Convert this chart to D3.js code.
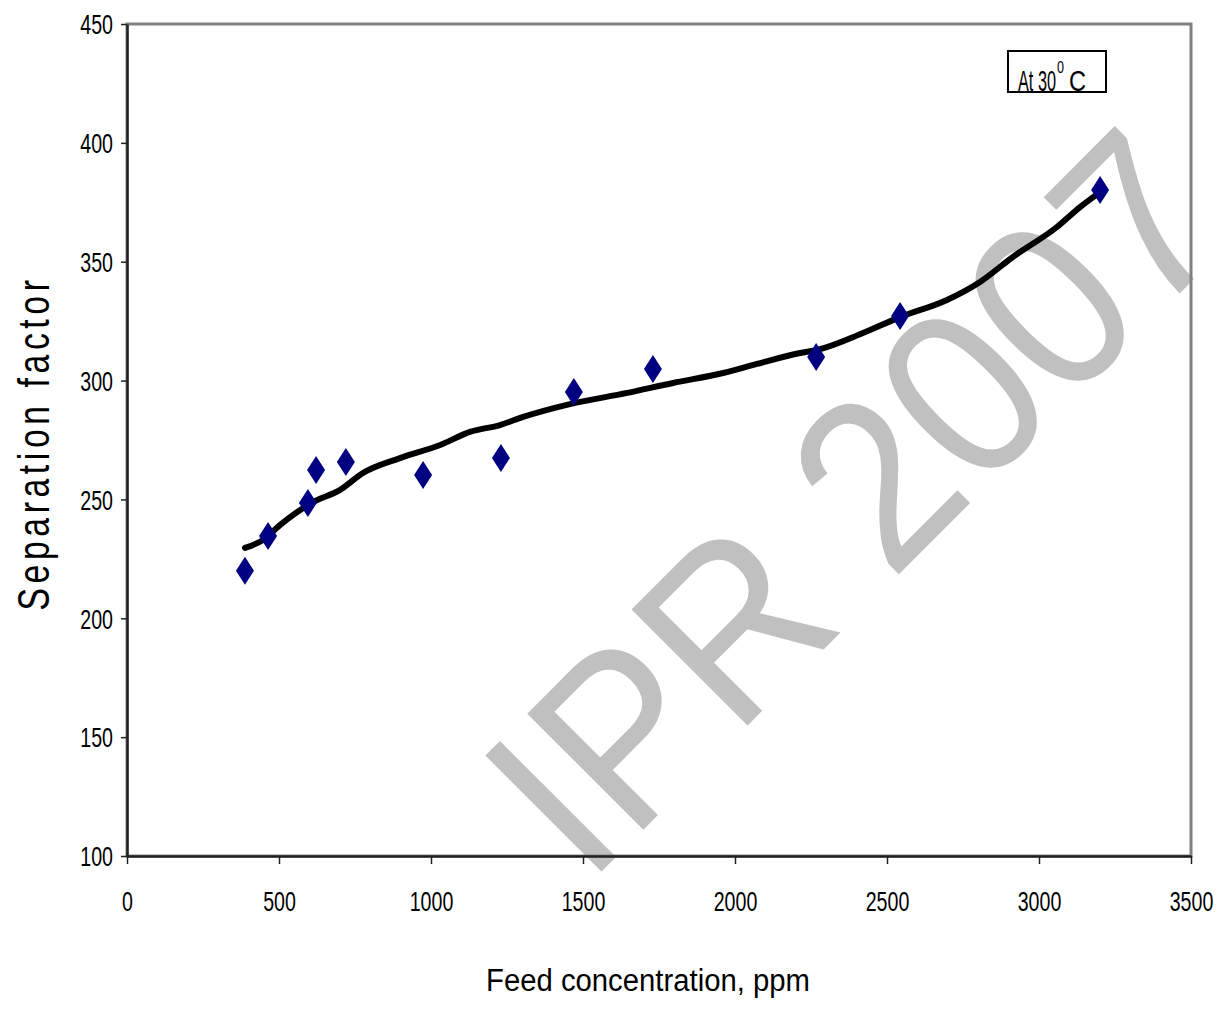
<!DOCTYPE html>
<html>
<head>
<meta charset="utf-8">
<script src="https://cdn.jsdelivr.net/npm/d3@7"></script>
<style>
  html, body { margin: 0; padding: 0; background: #fff; }
  svg { display: block; }
</style>
</head>
<body>
<svg id="chart" width="1217" height="1013"></svg>
<script>
// ---- data ----
const feedConc = [388, 464, 595, 622, 720, 974, 1230, 1470, 1730, 2267, 2543, 3201];
const sepFactor = [220, 234.6, 248.5, 262.4, 265.7, 260.3, 267.4, 295.2, 304.9, 309.9, 327.2, 380.2];
const trendX = [388, 447, 503, 612, 701, 776, 898, 1030, 1128, 1227, 1303, 1457, 1645, 1796, 1961, 2072, 2214, 2270, 2421, 2543, 2697, 2806, 2914, 3059, 3135, 3201];
const trendY = [229.6, 232.9, 239.2, 248.9, 254.0, 261.1, 267.4, 272.9, 278.4, 281.3, 284.7, 290.1, 294.8, 299.0, 303.2, 307.0, 311.6, 312.9, 320.0, 326.7, 333.9, 341.5, 352.0, 364.6, 373.0, 379.3];
const xTicks = [0, 500, 1000, 1500, 2000, 2500, 3000, 3500];
const yTicks = [100, 150, 200, 250, 300, 350, 400, 450];
const xTitle = "Feed concentration, ppm";
const yTitle = "Separation factor";
const legendLabel = "At 30";
const legendSup = "0";
const legendUnit = "C";
const watermark = "IPR 2007";

// ---- layout ----
const L = 127, R = 1191, T = 24, B = 856;
const x = d3.scaleLinear().domain([0, 3500]).range([L, R]);
const y = d3.scaleLinear().domain([100, 450]).range([B, T]);
const svg = d3.select("#chart");
const font = "'Liberation Sans', Arial, sans-serif";

// watermark (behind)
svg.append("text")
  .attr("transform", "translate(587,886) rotate(-45) scale(1,1.08)")
  .attr("font-family", font)
  .attr("font-size", 221)
  .attr("fill", "#c0c0c0")
  .text(watermark);

// plot border (gray)
svg.append("rect")
  .attr("x", L).attr("y", T).attr("width", R - L).attr("height", B - T)
  .attr("fill", "none").attr("stroke", "#808080").attr("stroke-width", 3);

// axes
const fmt = d3.format("d");
const yAxis = d3.axisLeft(y).tickValues(yTicks).tickFormat(fmt).tickSize(6).tickPadding(8).tickSizeOuter(0);
const xAxis = d3.axisBottom(x).tickValues(xTicks).tickFormat(fmt).tickSize(8).tickPadding(28).tickSizeOuter(0);

const gy = svg.append("g").attr("transform", `translate(${L},0)`).call(yAxis);
const gx = svg.append("g").attr("transform", `translate(0,${B})`).call(xAxis);

[gx, gy].forEach(g => {
  g.select(".domain").attr("stroke", "#222").attr("stroke-width", 2.5);
  g.selectAll(".tick line").attr("stroke", "#222").attr("stroke-width", 1.5);
  g.selectAll(".tick text")
    .attr("fill", "#000")
    .attr("font-family", font)
    .attr("font-size", 27)
    .attr("lengthAdjust", "spacingAndGlyphs")
    .each(function(d) {
      d3.select(this).attr("textLength", fmt(d).length * 10.9);
    });
});
gy.selectAll(".tick text").attr("dy", "0.36em");
gx.selectAll(".tick text").attr("dy", "0.71em");

// trend line
const line = d3.line().x((d, i) => x(trendX[i])).y(d => y(d)).curve(d3.curveMonotoneX);
svg.append("path")
  .attr("d", line(trendY))
  .attr("fill", "none").attr("stroke", "#000").attr("stroke-width", 6)
  .attr("stroke-linecap", "round").attr("stroke-linejoin", "round");

// diamonds
const dw = 9, dh = 14;
svg.append("g").selectAll("path").data(feedConc).join("path")
  .attr("d", (d, i) => {
    const cx = x(d), cy = y(sepFactor[i]);
    return `M${cx},${cy - dh}L${cx + dw},${cy}L${cx},${cy + dh}L${cx - dw},${cy}Z`;
  })
  .attr("fill", "#000080");

// legend box
svg.append("rect")
  .attr("x", 1008).attr("y", 51).attr("width", 98).attr("height", 41)
  .attr("fill", "#fff").attr("stroke", "#000").attr("stroke-width", 2);
svg.append("text")
  .attr("x", 1018).attr("y", 91)
  .attr("font-family", font).attr("font-size", 29).attr("fill", "#000")
  .attr("textLength", 38).attr("lengthAdjust", "spacingAndGlyphs")
  .text(legendLabel);
svg.append("text")
  .attr("x", 1057).attr("y", 73)
  .attr("font-family", font).attr("font-size", 17).attr("fill", "#000")
  .attr("textLength", 7).attr("lengthAdjust", "spacingAndGlyphs")
  .text(legendSup);
svg.append("text")
  .attr("x", 1069).attr("y", 91)
  .attr("font-family", font).attr("font-size", 29).attr("fill", "#000")
  .attr("textLength", 17).attr("lengthAdjust", "spacingAndGlyphs")
  .text(legendUnit);

// axis titles
svg.append("text")
  .attr("x", 648).attr("y", 991)
  .attr("text-anchor", "middle")
  .attr("font-family", font).attr("font-size", 31)
  .attr("textLength", 324).attr("lengthAdjust", "spacingAndGlyphs")
  .attr("fill", "#000")
  .text(xTitle);

svg.append("text")
  .attr("transform", "translate(49,443) rotate(-90)")
  .attr("text-anchor", "middle")
  .attr("font-family", font).attr("font-size", 44)
  .attr("letter-spacing", 6)
  .attr("textLength", 335).attr("lengthAdjust", "spacingAndGlyphs")
  .attr("fill", "#000")
  .text(yTitle);
</script>
</body>
</html>
